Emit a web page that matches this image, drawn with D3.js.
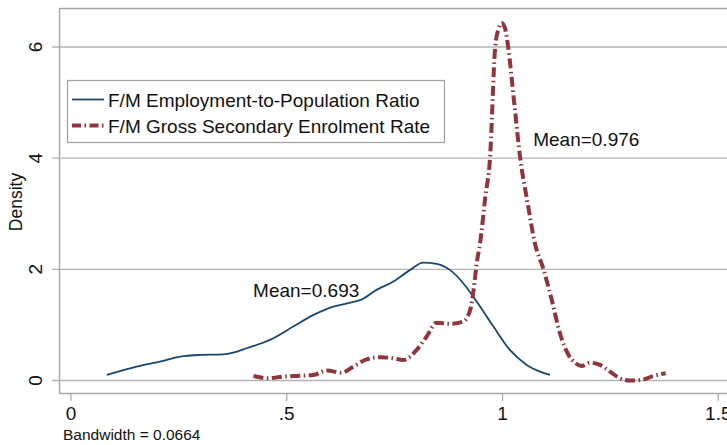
<!DOCTYPE html>
<html><head><meta charset="utf-8">
<script src="https://cdn.jsdelivr.net/npm/d3@7"></script>
<style>body{margin:0;background:#fff}svg{display:block;font-family:"Liberation Sans",Arial,Helvetica,sans-serif}</style>
</head><body><svg id="c" width="727" height="445"></svg>
<script>
// Kernel density curves
const empX = [0.083,0.152,0.206,0.253,0.299,0.353,0.376,0.407,0.461,0.515,0.562,0.608,0.647,0.674,0.708,0.747,0.786,0.816,0.847,0.878,0.909,0.940,0.979,1.017,1.056,1.110];
const empY = [0.10,0.25,0.34,0.43,0.46,0.47,0.50,0.58,0.73,0.97,1.18,1.33,1.40,1.46,1.63,1.78,1.99,2.12,2.10,1.99,1.75,1.42,0.97,0.55,0.28,0.10];
const encX = [0.423,0.457,0.490,0.515,0.562,0.593,0.627,0.654,0.685,0.716,0.747,0.770,0.801,0.824,0.847,0.878,0.909,0.925,0.933,0.940,0.948,0.960,0.971,0.983,0.991,0.998,1.006,1.013,1.027,1.041,1.058,1.075,1.095,1.114,1.133,1.153,1.168,1.183,1.203,1.226,1.249,1.272,1.295,1.322,1.349,1.378];
const encY = [0.08,0.04,0.07,0.08,0.10,0.18,0.14,0.25,0.38,0.42,0.40,0.37,0.55,0.79,1.04,1.02,1.06,1.27,1.63,2.10,2.47,3.30,4.00,6.00,6.33,6.43,6.33,6.00,5.00,4.00,3.20,2.47,2.00,1.45,0.85,0.46,0.32,0.26,0.32,0.28,0.16,0.04,0.00,0.01,0.08,0.13];
const seriesNames = ["F/M Employment-to-Population Ratio","F/M Gross Secondary Enrolment Rate"];
const xTicks = [0,0.5,1,1.5];
const xTickLabels = ["0",".5","1","1.5"];
const yTicks = [0,2,4,6];
const meanLabels = [{x:0.422, y:1.50, t:"Mean=0.693"},{x:1.071, y:4.22, t:"Mean=0.976"}];

const svg = d3.select("#c");
const x = d3.scaleLinear().domain([0,1.5]).range([71,718.3]);
const y = d3.scaleLinear().domain([0,6]).range([380.5,47]);
const grid = "#b4b4b4", frame = "#a6a6a6";
const navy = "#1a476f", maroon = "#90353b";
const dash = "10,3.5,1.5,3.5";
const fs = 19;

svg.append("g").selectAll("line").data(yTicks).join("line")
  .attr("x1",52).attr("x2",727).attr("y1",d=>y(d)).attr("y2",d=>y(d))
  .attr("stroke",grid).attr("stroke-width",1.4);
svg.append("path").attr("d","M727,8.5H59.5V393.5H727").attr("fill","none").attr("stroke",frame).attr("stroke-width",1.4);
const xa = svg.append("g");
xa.selectAll("line").data(xTicks).join("line")
  .attr("x1",d=>x(d)).attr("x2",d=>x(d)).attr("y1",394).attr("y2",401)
  .attr("stroke",frame).attr("stroke-width",1.2);
xa.selectAll("text").data(xTicks).join("text")
  .attr("x",d=>x(d)).attr("y",420).attr("text-anchor","middle")
  .attr("font-size",fs).attr("fill","#111").text((d,i)=>xTickLabels[i]);
svg.append("g").selectAll("text").data(yTicks).join("text")
  .attr("transform",d=>`translate(42,${y(d)}) rotate(-90)`)
  .attr("text-anchor","middle").attr("font-size",fs).attr("fill","#111").text(d=>d);
svg.append("text").attr("transform","translate(22,202) rotate(-90)")
  .attr("text-anchor","middle").attr("font-size",17.5).attr("fill","#111").text("Density");
svg.append("text").attr("x",63).attr("y",440).attr("font-size",15.5).attr("fill","#111").text("Bandwidth = 0.0664");

const line = d3.line().x(d=>x(d[0])).y(d=>y(d[1])).curve(d3.curveMonotoneX);
svg.append("path").datum(empX.map((v,i)=>[v,empY[i]])).attr("d",line)
  .attr("fill","none").attr("stroke",navy).attr("stroke-width",1.8);
svg.append("path").datum(encX.map((v,i)=>[v,encY[i]])).attr("d",line)
  .attr("fill","none").attr("stroke",maroon).attr("stroke-width",4).attr("stroke-dasharray",dash);

svg.append("g").selectAll("text").data(meanLabels).join("text")
  .attr("x",d=>x(d.x)).attr("y",d=>y(d.y)).attr("text-anchor","start")
  .attr("font-size",fs).attr("fill","#111").text(d=>d.t);

const lg = svg.append("g");
lg.append("rect").attr("x",67.5).attr("y",80.5).attr("width",377).attr("height",62)
  .attr("fill","#fff").attr("stroke","#a0a0a0").attr("stroke-width",1.2);
const cols=[navy,maroon], widths=[1.8,4], dashes=[null,"9,3.5,1.5,3.5"];
seriesNames.forEach((n,i)=>{
  const yy = 99.5 + i*26;
  lg.append("line").attr("x1",72).attr("x2",104).attr("y1",yy).attr("y2",yy)
    .attr("stroke",cols[i]).attr("stroke-width",widths[i]).attr("stroke-dasharray",dashes[i]);
  lg.append("text").attr("x",108).attr("y",yy+7).attr("font-size",fs).attr("fill","#111").text(n);
});
</script></body></html>
